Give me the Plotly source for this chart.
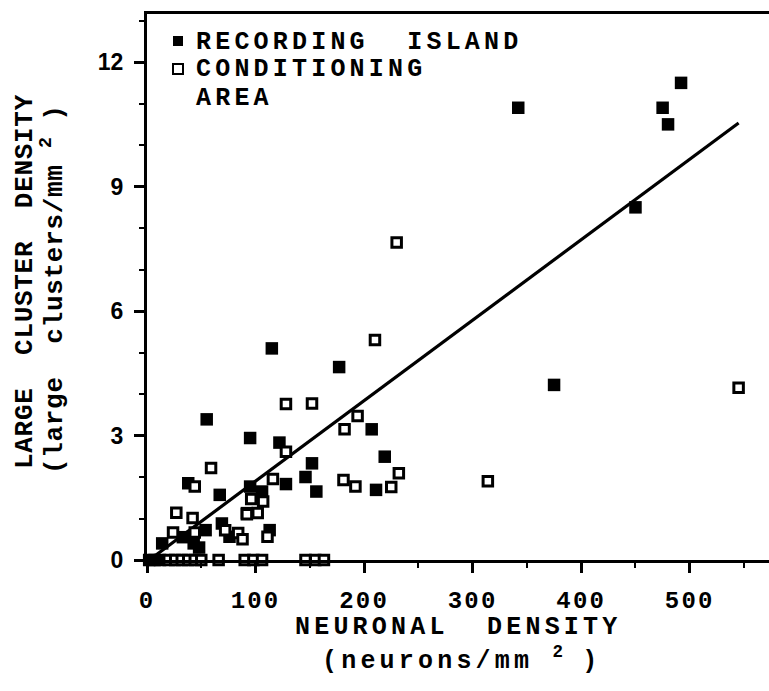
import plotly.graph_objects as go

# Recording island: neuronal density (neurons/mm^2) vs large cluster density
island_x = [2, 7, 12, 14, 33, 43, 48, 54, 67, 69, 76, 38, 55, 92, 95, 95, 106, 113,
            115, 122, 128, 146, 152, 156, 177, 207, 211, 219, 342, 375, 450, 475, 480, 492]
island_y = [0, 0, 0, 0.4, 0.55, 0.4, 0.3, 0.72, 1.57, 0.88, 0.56, 1.85, 3.39, 1.13, 2.94,
            1.77, 1.65, 0.72, 5.1, 2.83, 1.83, 2.0, 2.33, 1.65, 4.65, 3.15, 1.69, 2.49,
            10.9, 4.22, 8.5, 10.9, 10.5, 11.5]

# Conditioning area
cond_x = [230, 210, 545, 128, 152, 194, 182, 128, 59, 116, 181, 192, 225, 232, 314,
          44, 96, 107, 92, 102, 27, 42, 24, 44, 72, 84, 88, 111,
          20, 26, 32, 38, 44, 50, 66, 90, 98, 106, 146, 155, 163]
cond_y = [7.65, 5.3, 4.15, 3.76, 3.77, 3.47, 3.15, 2.61, 2.22, 1.95, 1.93, 1.77, 1.76,
          2.09, 1.9, 1.77, 1.47, 1.41, 1.1, 1.13, 1.14, 1.01, 0.66, 0.66, 0.72, 0.65,
          0.5, 0.56, 0, 0, 0, 0, 0, 0, 0, 0, 0, 0, 0, 0, 0]

# Linear regression
fit_slope = 0.0194
fit_intercept = -0.04
fit_x = [3, 545]
fit_y = [fit_slope * v + fit_intercept for v in fit_x]

x_ticks = [0, 100, 200, 300, 400, 500]
x_tick_labels = ["0", "100", "200", "300", "400", "500"]
y_ticks = [0, 3, 6, 9, 12]

legend_labels = ["RECORDING  ISLAND", "CONDITIONING", "AREA"]

MONO = "Liberation Mono"
SANS = "Liberation Sans"


def spaced(text, px):
    """Wrap text in a span with extra letter spacing (typewriter look)."""
    return '<span style="letter-spacing:%.1fpx">%s</span>' % (px, text.replace(" ", "\u00a0"))


fig = go.Figure()

fig.add_trace(go.Scatter(
    x=fit_x, y=fit_y, mode="lines",
    line=dict(color="black", width=3.2), showlegend=False, hoverinfo="skip"))

fig.add_trace(go.Scatter(
    x=island_x, y=island_y, mode="markers", cliponaxis=False, name=legend_labels[0],
    marker=dict(symbol="square", size=12.5, color="black"),
    showlegend=False))

fig.add_trace(go.Scatter(
    x=cond_x, y=cond_y, mode="markers", cliponaxis=False, name=legend_labels[1],
    marker=dict(symbol="square", size=9.5, color="white",
                line=dict(color="black", width=3)),
    showlegend=False))

axis_common = dict(
    showline=True, linecolor="black", linewidth=3,
    showgrid=False, zeroline=False,
    ticks="outside", ticklen=10, tickwidth=3, tickcolor="black",
)

fig.update_xaxes(
    **axis_common, range=[0, 573], mirror=True, ticklabelstandoff=6,
    tickvals=x_ticks, ticktext=[spaced(t, 2.2) for t in x_tick_labels],
    tickfont=dict(family=MONO, size=24, color="black", weight="bold"),
    minor=dict(dtick=50, ticks="outside", ticklen=5, tickwidth=2, tickcolor="black"),
)
fig.update_yaxes(
    **axis_common, range=[0, 13.16], tickvals=y_ticks, ticklabelstandoff=6,
    tickfont=dict(family=SANS, size=23, color="black", weight="bold"),
    minor=dict(dtick=1, ticks="outside", ticklen=5, tickwidth=2, tickcolor="black"),
)

h_font = dict(family=MONO, size=25, color="black", weight="bold")
v_font = dict(family=MONO, size=26, color="black", weight="bold")
H_SPACE = 4.2

annotations = [
    # axis titles
    dict(text=spaced("NEURONAL  DENSITY", H_SPACE), x=0.50, y=-0.124, font=h_font,
         xanchor="center"),
    dict(text=spaced("(neurons/mm ", H_SPACE) + "<sup>2</sup>" + spaced(" )", H_SPACE),
         x=0.505, y=-0.182, font=h_font, xanchor="center"),
    dict(text=spaced("LARGE  CLUSTER  DENSITY", 0.7), x=-0.197, y=0.51,
         textangle=-90, font=v_font, xanchor="center"),
    dict(text=spaced("(large  clusters/mm ", 0.7) + "<sup>2</sup>" + spaced(" )", 0.7),
         x=-0.152, y=0.497, textangle=-90, font=v_font, xanchor="center"),
]

# legend text lines (paper coordinates, pixel-accurate placement)
PLOT_L, PLOT_T, PLOT_W, PLOT_H = 147, 14, 622, 546


def px_to_paper(px, py):
    return (px - PLOT_L) / PLOT_W, (PLOT_T + PLOT_H - py) / PLOT_H


legend_rows = [41, 69, 97]
for label, row in zip(legend_labels, legend_rows):
    lx, ly = px_to_paper(194, row + 1)
    annotations.append(dict(text=spaced(label, H_SPACE), x=lx, y=ly, font=h_font,
                            xanchor="left"))

for a in annotations:
    a.update(xref="paper", yref="paper", showarrow=False, yanchor="middle")

# legend key squares
shapes = []
for row, fill, lw in [(legend_rows[0], "black", 0), (legend_rows[1], "white", 2)]:
    kx, ky = px_to_paper(178, row)
    shapes.append(dict(
        type="rect", xref="paper", yref="paper",
        xsizemode="pixel", ysizemode="pixel", xanchor=kx, yanchor=ky,
        x0=-5, x1=5, y0=-5, y1=5,
        fillcolor=fill, line=dict(color="black", width=lw)))

fig.update_layout(
    width=769, height=691,
    margin=dict(l=PLOT_L, r=0, t=PLOT_T, b=691 - PLOT_T - PLOT_H),
    paper_bgcolor="white", plot_bgcolor="white",
    annotations=annotations, shapes=shapes,
    showlegend=False,
)

fig.write_html("out.html")
